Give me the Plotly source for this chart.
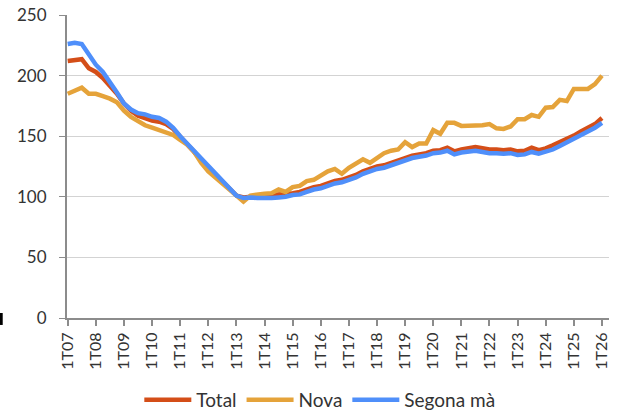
import plotly.graph_objects as go

# Quarter categories 1T07 .. 1T26
years = ["07", "08", "09", "10", "11", "12", "13", "14", "15", "16",
         "17", "18", "19", "20", "21", "22", "23", "24", "25", "26"]
quarters = [f"{q}T{y}" for y in years for q in (1, 2, 3, 4)][:77]
tick_labels = [f"1T{y}" for y in years]

total = [212, 213, 213.5, 206, 203, 198, 192, 185, 177, 171, 167, 165, 163, 162, 160, 156,
         150, 143, 137, 130, 124, 118, 112, 107, 101, 99.5, 100, 100.5, 101, 101, 101.5, 102,
         103, 104, 106, 108, 109, 111, 113, 114, 116, 118, 121, 123, 125, 126, 128, 130,
         132, 134, 135, 136, 138, 138.5, 140.5, 137.5, 139, 140, 141, 140, 139, 139, 138.5, 139,
         137.5, 138, 140.5, 138.5, 140, 142.5, 145, 148, 150.5, 154, 157, 160, 165]

nova = [185, 188, 190, 185, 185, 183, 181, 178, 171, 166, 162, 159, 157, 155, 153, 151,
        147, 143, 137, 128, 121, 116, 111, 107, 101, 96, 101, 102, 102.5, 103, 106, 104,
        108, 109, 113, 114, 118, 121, 123, 119, 124, 128, 131, 128, 132, 136, 138, 139,
        145, 141, 144, 144, 155, 152, 161, 161, 158.5, 158.5, 158.5, 159, 160, 156.5, 156, 158,
        164, 164, 167.5, 166, 173.5, 174, 180, 179, 189, 189, 189, 193, 200]

segona = [226, 227, 226, 218, 209, 203, 195, 186, 177, 172, 169, 168, 166, 165, 162, 157,
          150, 144, 138, 131, 125, 119, 113, 108, 101, 99, 99.5, 99, 98.8, 99, 99.5, 100,
          101.5, 102, 104, 106, 107, 109, 111, 112, 114, 116, 119, 121, 123, 124, 126, 128,
          130, 132, 133, 134, 136, 136.5, 138, 135, 136.5, 137.5, 138, 137, 136, 136, 135.5, 136,
          134.5, 135, 137, 135.5, 137, 139, 142, 145, 147.5, 151, 154, 157, 161]

y_ticks = [0, 50, 100, 150, 200, 250]

series = [
    ("Total", total, "rgb(212,78,24)"),
    ("Nova", nova, "rgb(229,163,58)"),
    ("Segona mà", segona, "rgb(79,143,250)"),
]

fig = go.Figure()
for name, vals, color in series:
    fig.add_trace(go.Scatter(
        x=quarters, y=vals, name=name, mode="lines",
        line=dict(color=color, width=4.5, shape="linear"),
    ))

font_family = "Lato, Open Sans, sans-serif"

fig.update_layout(
    width=621, height=411,
    margin=dict(l=67, r=12, t=15, b=93, autoexpand=False),
    paper_bgcolor="white", plot_bgcolor="white",
    font=dict(family=font_family, color="#333333"),
    showlegend=True,
    legend=dict(
        orientation="h", xref="container", yref="container",
        x=0.515, xanchor="center", y=0.027, yanchor="middle",
        font=dict(size=19, color="#333333"),
        itemwidth=47,
        traceorder="normal",
    ),
    xaxis=dict(
        type="category",
        range=[-0.1, 77],
        tickmode="array", tickvals=[f"1T{y}" for y in years], ticktext=tick_labels,
        tickangle=-90,
        tickfont=dict(size=16, color="#333333"),
        ticks="outside", ticklen=6, tickcolor="#8c8c8c", tickwidth=2,
        showline=True, linecolor="#8c8c8c", linewidth=2,
        showgrid=False, zeroline=False,
    ),
    yaxis=dict(
        range=[0, 250],
        tickvals=y_ticks,
        tickfont=dict(size=17, color="#333333"),
        ticks="outside", ticklen=6, tickcolor="#8c8c8c", tickwidth=1,
        ticklabelstandoff=9,
        showline=True, linecolor="#8c8c8c", linewidth=2,
        showgrid=True, gridcolor="#d3d3d3", gridwidth=1,
        zeroline=False,
    ),
    shapes=[dict(
        type="rect", xref="paper", yref="paper",
        x0=-0.1236, x1=-0.1186, y0=-0.023, y1=0.0165,
        fillcolor="black", line=dict(width=0),
    )],
)

fig.write_html("out.html", config={"displayModeBar": False},
               post_script="document.body.style.margin='0';")
